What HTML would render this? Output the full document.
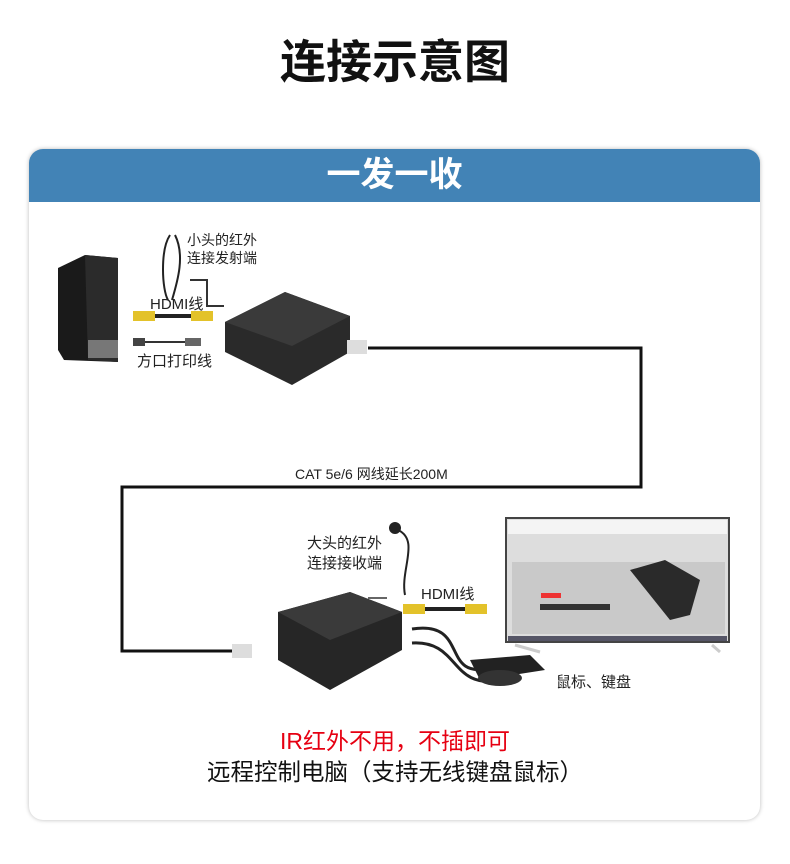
<!DOCTYPE html>
<html><head><meta charset="utf-8"><style>
body{margin:0;width:790px;height:864px;background:#fff;position:relative;overflow:hidden;font-family:"Liberation Sans","Noto Sans CJK SC",sans-serif}
.t{position:absolute;white-space:nowrap}
</style></head><body>
<div class="t" style="left:0;width:790px;top:26px;text-align:center;font-size:46px;font-weight:bold;color:#111">连接示意图</div>
<div style="position:absolute;left:29px;top:149px;width:731px;height:671px;border-radius:14px;box-shadow:0 0 4px #bbb;background:#fff;overflow:hidden">
<div style="height:53px;background:#4283b6;color:#fff;font-size:34px;font-weight:bold;text-align:center;line-height:52px">一发一收</div>
</div>
<svg style="position:absolute;left:0;top:0" width="790" height="864">
<polyline points="368,348 641,348 641,487 122,487 122,651 232,651" fill="none" stroke="#111" stroke-width="3"/>
<polygon points="58,268 85,255 118,258 118,362 64,360 58,350" fill="#1a1a1a"/>
<polygon points="85,255 118,258 118,362 88,360" fill="#2b2b2b"/>
<rect x="88" y="340" width="30" height="18" fill="#777"/>
<path d="M170,235 C160,250 162,290 168,300 M175,235 C185,255 178,280 172,300" stroke="#222" stroke-width="2" fill="none"/>
<polyline points="190,280 207,280 207,306 224,306" stroke="#333" stroke-width="2" fill="none"/>
<rect x="133" y="311" width="22" height="10" fill="#e3c22a"/><rect x="155" y="314" width="36" height="4" fill="#222"/><rect x="191" y="311" width="22" height="10" fill="#e3c22a"/>
<rect x="133" y="338" width="12" height="8" fill="#444"/><rect x="145" y="341" width="40" height="2" fill="#333"/><rect x="185" y="338" width="16" height="8" fill="#666"/>
<polygon points="225,322 285,292 350,316 350,352 292,385 225,352" fill="#2a2a2a"/>
<polygon points="225,322 285,292 350,316 292,346" fill="#3a3a3a"/>
<rect x="347" y="340" width="20" height="14" fill="#ddd"/>
<polygon points="278,612 350,592 402,612 402,650 330,690 278,660" fill="#262626"/>
<polygon points="278,612 350,592 402,612 330,640" fill="#3a3a3a"/>
<rect x="232" y="644" width="20" height="14" fill="#ddd"/>
<circle cx="395" cy="528" r="6" fill="#222"/>
<path d="M398,530 C420,540 400,570 405,595" stroke="#222" stroke-width="2" fill="none"/>
<line x1="368" y1="598" x2="387" y2="598" stroke="#333" stroke-width="1.5"/>
<rect x="403" y="604" width="22" height="10" fill="#e3c22a"/><rect x="425" y="607" width="40" height="4" fill="#222"/><rect x="465" y="604" width="22" height="10" fill="#e3c22a"/>
<path d="M412,629 C470,620 440,680 490,668 M412,643 C460,640 450,690 500,680" stroke="#222" stroke-width="3" fill="none"/>
<polygon points="470,660 530,655 545,670 480,680" fill="#222"/>
<ellipse cx="500" cy="678" rx="22" ry="8" fill="#333"/>
<rect x="506" y="518" width="223" height="124" fill="#ddd" stroke="#444" stroke-width="2"/>
<rect x="508" y="520" width="219" height="14" fill="#f4f4f4"/>
<rect x="512" y="562" width="213" height="72" fill="#c9c9c9"/>
<rect x="508" y="636" width="219" height="5" fill="#556"/>
<polygon points="630,570 665,560 700,580 690,615 670,620" fill="#2a2a2a"/>
<rect x="540" y="604" width="70" height="6" fill="#333"/>
<rect x="541" y="593" width="20" height="5" fill="#e33"/>
<line x1="515" y1="645" x2="540" y2="652" stroke="#ccc" stroke-width="3"/>
<line x1="712" y1="645" x2="720" y2="652" stroke="#ccc" stroke-width="3"/>
</svg>
<div class="t" style="left:187px;top:231px;font-size:14px;line-height:18px;color:#222">小头的红外<br>连接发射端</div>
<div class="t" style="left:150px;top:293px;font-size:15px;color:#222">HDMI线</div>
<div class="t" style="left:137px;top:350px;font-size:15px;color:#222">方口打印线</div>
<div class="t" style="left:295px;top:464px;font-size:14px;color:#222">CAT 5e/6 网线延长200M</div>
<div class="t" style="left:307px;top:534px;font-size:15px;line-height:20px;color:#222">大头的红外<br>连接接收端</div>
<div class="t" style="left:421px;top:583px;font-size:15px;color:#222">HDMI线</div>
<div class="t" style="left:556px;top:671px;font-size:15px;color:#222">鼠标、键盘</div>
<div class="t" style="left:0;width:790px;text-align:center;top:722px;font-size:23px;color:#e60012">IR红外不用，不插即可</div>
<div class="t" style="left:0;width:790px;text-align:center;top:753px;font-size:23.5px;color:#111">远程控制电脑（支持无线键盘鼠标）</div>
</body></html>
